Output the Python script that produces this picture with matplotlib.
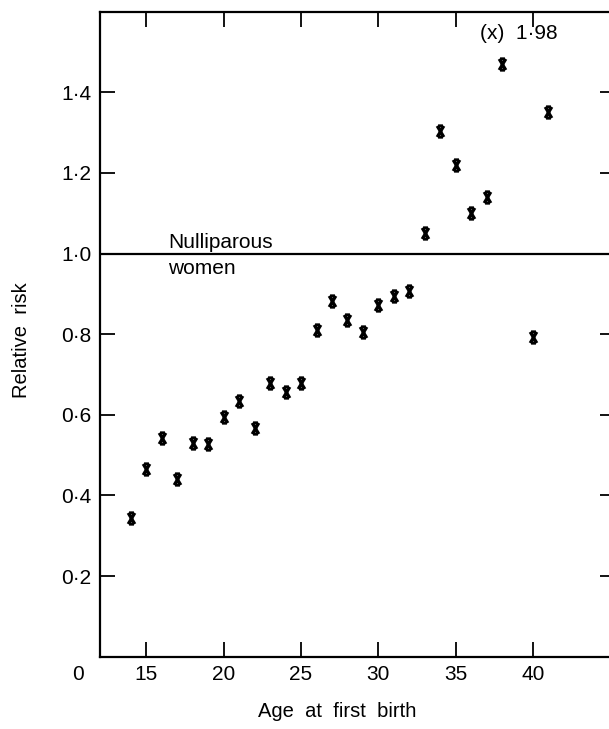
import numpy as np
import matplotlib
matplotlib.use('Agg')
import matplotlib.pyplot as plt
from matplotlib.path import Path

plt.rcParams['font.family'] = ['Liberation Sans', 'DejaVu Sans']

# data
ages = [14, 15, 16, 17, 18, 19, 20, 21, 22, 23, 24, 25, 26, 27, 28, 29, 30,
        31, 32, 33, 34, 35, 36, 37, 38, 40, 41]
risk = [0.345, 0.465, 0.543, 0.44, 0.531, 0.528, 0.595, 0.633, 0.568, 0.679,
        0.656, 0.68, 0.81, 0.882, 0.834, 0.805, 0.873, 0.895, 0.906, 1.05,
        1.305, 1.22, 1.10, 1.14, 1.47, 0.792, 1.35]
x_ticks = [15, 20, 25, 30, 35, 40]
y_ticks = [0.2, 0.4, 0.6, 0.8, 1.0, 1.2, 1.4]
y_labels = ['0·2', '0·4', '0·6', '0·8', '1·0', '1·2', '1·4']
nulliparous = 1.0

# typewriter style "x" marker
verts = [(-0.3, 0.5), (0.3, -0.5), (0.3, 0.5), (-0.3, -0.5),
         (-0.22, 0.5), (0.22, 0.5), (-0.22, -0.5), (0.22, -0.5)]
codes = [Path.MOVETO, Path.LINETO] * 4
xmark = Path(verts, codes)

fig = plt.figure(figsize=(6.09, 7.29), dpi=100)
ax = fig.add_axes([0.1642, 0.0992, 0.8456, 0.8848])

ax.axhline(nulliparous, color='black', lw=1.6)
ax.plot(ages, risk, ls='none', marker=xmark, ms=8, mew=2.3,
        color='black', mfc='none')

ax.set_xlim(12, 45.3)
ax.set_ylim(0, 1.6)
ax.set_xticks(x_ticks)
ax.set_yticks(y_ticks)
ax.set_yticklabels(y_labels)
ax.tick_params(direction='in', length=11, width=1.3, labelsize=15,
               top=True, right=True, pad=6)
ax.tick_params(axis='y', pad=6)
for side in ['left', 'bottom', 'top']:
    ax.spines[side].set_linewidth(1.6)
ax.spines['right'].set_visible(False)

ax.text(16.4, 1.027, 'Nulliparous', fontsize=15, va='center')
ax.text(16.4, 0.964, 'women', fontsize=15, va='center')
ax.text(36.6, 1.546, '(x)  1·98', fontsize=15, va='center')
ax.annotate('0', xy=(10.6, 0), xytext=(0, -6), textcoords='offset points',
            ha='center', va='top', fontsize=15, annotation_clip=False)

ax.set_xlabel('Age  at  first  birth', fontsize=14.5)
ax.set_ylabel('Relative  risk', fontsize=14.5)
ax.xaxis.set_label_coords(0.46, -0.07)
ax.yaxis.set_label_coords(-0.134, 0.49)

fig.savefig('out.png', dpi=100)
